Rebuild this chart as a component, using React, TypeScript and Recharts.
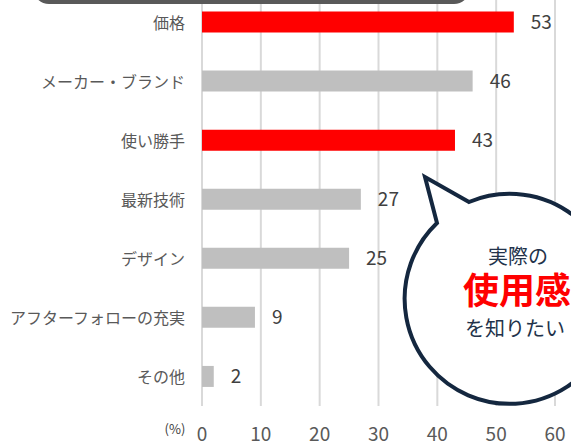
import React from 'react';
import { BarChart, Bar, XAxis, YAxis, CartesianGrid, Cell, LabelList } from 'recharts';

const categories = ['価格', 'メーカー・ブランド', '使い勝手', '最新技術', 'デザイン', 'アフターフォローの充実', 'その他'];
const values = [53, 46, 43, 27, 25, 9, 2];
const highlighted = ['価格', '使い勝手'];
const xTicks = [0, 10, 20, 30, 40, 50, 60];

const data = categories.map((name, i) => ({ name, value: values[i] }));

const FONT = '"Noto Sans CJK JP", "Noto Sans", sans-serif';

const CategoryTick = (props: any) => {
  const { x, y, payload } = props;
  return (
    <text x={x} y={y} textAnchor="end" dominantBaseline="central" fontSize={16} fill="#595959" fontFamily={FONT}>
      {payload.value}
    </text>
  );
};

const ValueTick = (props: any) => {
  const { x, y, payload } = props;
  return (
    <text x={x} y={y} textAnchor="middle" dominantBaseline="central" fontSize={19} fill="#595959" fontFamily={FONT}>
      {payload.value}
    </text>
  );
};

const App: React.FC = () => {
  return (
    <div style={{ position: 'fixed', top: 0, left: 0, width: 571, height: 442, overflow: 'hidden', background: '#fff' }}>
      <div style={{ position: 'absolute', top: -40, left: 0 }}>
        <BarChart
          width={571}
          height={482}
          data={data}
          layout="vertical"
          margin={{ top: 32.5, right: 16, bottom: 0, left: 0 }}
        >
          <CartesianGrid horizontal={false} stroke="#d9d9d9" strokeWidth={2} />
          <XAxis
            type="number"
            domain={[0, 60]}
            ticks={xTicks}
            height={36}
            axisLine={false}
            tickLine={false}
            tickSize={0}
            tickMargin={26}
            tick={<ValueTick />}
            interval={0}
          />
          <YAxis
            type="category"
            dataKey="name"
            width={202}
            axisLine={false}
            tickLine={false}
            tickSize={0}
            tickMargin={17}
            tick={<CategoryTick />}
            interval={0}
          />
          <Bar dataKey="value" barSize={21} isAnimationActive={false}>
            {data.map((d) => (
              <Cell key={d.name} fill={highlighted.includes(d.name) ? '#ff0000' : '#bfbfbf'} />
            ))}
            <LabelList
              dataKey="value"
              position="right"
              offset={17}
              fill="#404040"
              fontSize={19}
              fontFamily={FONT}
            />
          </Bar>
        </BarChart>
      </div>
      {/* decorations: top banner edge, speech bubble, unit label */}
      <svg width={571} height={442} style={{ position: 'absolute', top: 0, left: 0, pointerEvents: 'none' }}>
        <rect x={33} y={-30} width={437} height={34} rx={16} fill="#595959" />
        <text x={175} y={428} textAnchor="middle" dominantBaseline="central" fontSize={13} fill="#404040" fontFamily={FONT}>
          (%)
        </text>
        <path
          d="M 469 202 L 425 177 L 437 223 A 105 105 0 1 0 469 202 Z"
          fill="#ffffff"
          stroke="#14273f"
          strokeWidth={4}
          strokeLinejoin="miter"
        />
        <text x={518} y={264} textAnchor="middle" fontSize={20} fill="#22324a" fontFamily={FONT}>
          実際の
        </text>
        <text x={463} y={304} textAnchor="start" fontSize={36} fontWeight="bold" fill="#ff0000" fontFamily={FONT}>
          使用感
        </text>
        <text x={465} y={336} textAnchor="start" fontSize={20} fill="#22324a" fontFamily={FONT}>
          を知りたい
        </text>
      </svg>
    </div>
  );
};

export default App;
